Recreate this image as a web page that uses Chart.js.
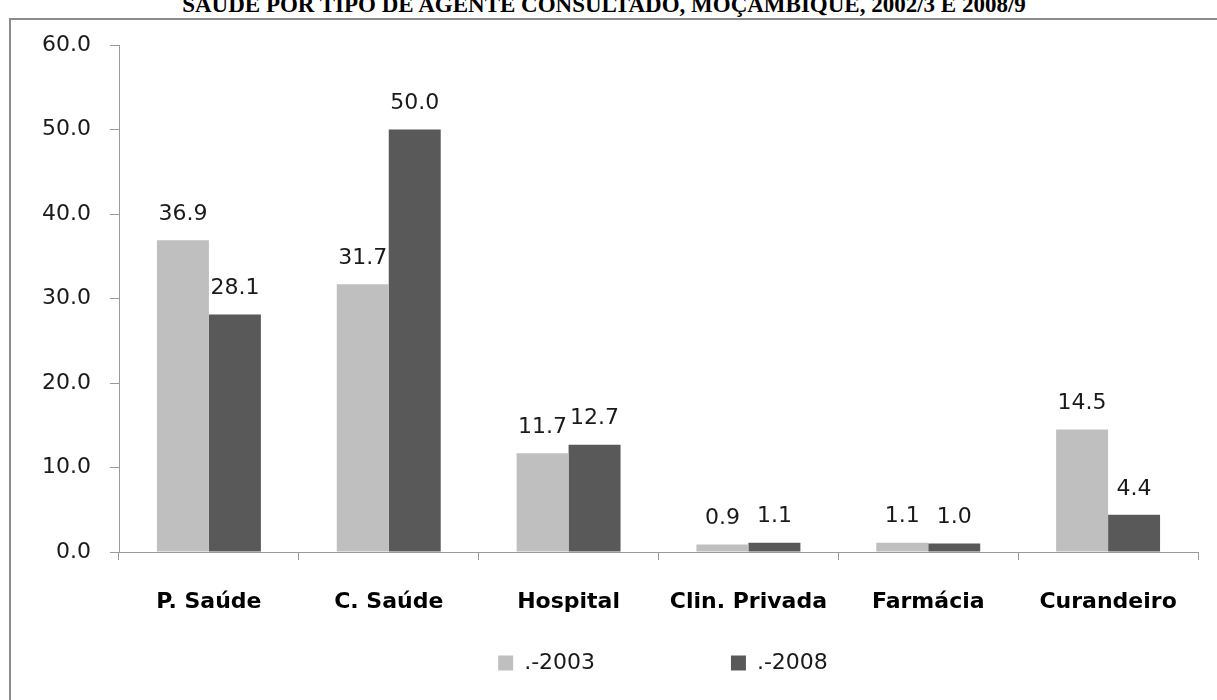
<!DOCTYPE html>
<html>
<head>
<meta charset="utf-8">
<script src="https://cdn.jsdelivr.net/npm/chart.js@4"></script>
<style>
  html, body { margin: 0; padding: 0; background: #fff; overflow: hidden; width: 1217px; height: 700px; }
  #title { position: absolute; left: 0; top: -7px; width: 1208px; text-align: center;
           font-family: "Liberation Serif", "Times New Roman", serif; font-weight: bold;
           font-size: 23px; line-height: 23px; color: #000; white-space: nowrap; }
  #box { position: absolute; left: 9px; top: 18px; width: 1400px; height: 720px;
         border-left: 2px solid #8c8c8c; border-top: 2px solid #8c8c8c; }
  #c { position: absolute; left: 0; top: 0; }
</style>
</head>
<body>
<div id="title">SAÚDE POR TIPO DE AGENTE CONSULTADO, MOÇAMBIQUE, 2002/3 E 2008/9</div>
<div id="box"><canvas id="c" width="1304" height="680"></canvas></div>
<script>
const categories = ["P. Saúde", "C. Saúde", "Hospital", "Clin. Privada", "Farmácia", "Curandeiro"];
const seriesNames = [".-2003", ".-2008"];
const values2003 = [36.9, 31.7, 11.7, 0.9, 1.1, 14.5];
const values2008 = [28.1, 50.0, 12.7, 1.1, 1.0, 4.4];
const yTicks = [0, 10, 20, 30, 40, 50, 60];

const valueLabels = {
  id: 'valueLabels',
  afterDatasetsDraw(chart) {
    const ctx = chart.ctx;
    ctx.save();
    ctx.font = '22px "DejaVu Sans"';
    ctx.fillStyle = '#1a1a1a';
    ctx.textAlign = 'center';
    ctx.textBaseline = 'middle';
    chart.data.datasets.forEach((ds, di) => {
      const meta = chart.getDatasetMeta(di);
      meta.data.forEach((bar, i) => {
        ctx.fillText(ds.data[i].toFixed(1), bar.x, bar.y - 26);
      });
    });
    ctx.restore();
  }
};

new Chart(document.getElementById('c'), {
  type: 'bar',
  data: {
    labels: categories,
    datasets: [
      { label: seriesNames[0], data: values2003, backgroundColor: '#bfbfbf', borderWidth: 0,
        categoryPercentage: 0.578, barPercentage: 1.0 },
      { label: seriesNames[1], data: values2008, backgroundColor: '#595959', borderWidth: 0,
        categoryPercentage: 0.578, barPercentage: 1.0 }
    ]
  },
  options: {
    responsive: false,
    animation: false,
    devicePixelRatio: 1,
    layout: { padding: { top: 25, left: 0, right: 0, bottom: 16 } },
    plugins: {
      title: { display: false },
      tooltip: { enabled: false },
      legend: {
        position: 'bottom',
        labels: {
          boxWidth: 15, boxHeight: 15, padding: 10,
          color: '#1a1a1a',
          font: { family: 'DejaVu Sans', size: 22 },
          generateLabels(chart) {
            const items = Chart.defaults.plugins.legend.labels.generateLabels(chart);
            items.forEach((it, i) => {
              it.lineWidth = 0;
              if (i === 0) it.text = it.text + ' '.repeat(18);
            });
            return items;
          }
        }
      }
    },
    scales: {
      x: {
        type: 'category',
        offset: true,
        grid: { offset: true, drawOnChartArea: false, drawTicks: true, tickLength: 8, color: '#999' },
        border: { display: true, color: '#999', width: 1 },
        ticks: { color: '#000', padding: 29, font: { family: 'DejaVu Sans', size: 22, weight: 'bold' } },
        afterFit(s) { s.height = 90; s.paddingLeft = 0; s.paddingRight = 0; }
      },
      y: {
        position: 'left',
        min: 0, max: 60,
        afterBuildTicks(s) { s.ticks = yTicks.map(v => ({ value: v })); },
        grid: { drawOnChartArea: false, drawTicks: true, tickLength: 9, color: '#999' },
        border: { display: true, color: '#999', width: 1 },
        ticks: { color: '#1a1a1a', padding: 19, font: { family: 'DejaVu Sans', size: 22 },
                 callback: v => Number(v).toFixed(1) },
        afterFit(s) { s.width = 108; s.paddingTop = 0; s.paddingBottom = 0; }
      },
      y2: {
        position: 'right',
        display: true,
        grid: { display: false },
        border: { display: false },
        ticks: { display: false },
        afterFit(s) { s.width = 117; s.paddingTop = 0; s.paddingBottom = 0; }
      }
    }
  },
  plugins: [valueLabels]
});
</script>
</body>
</html>
